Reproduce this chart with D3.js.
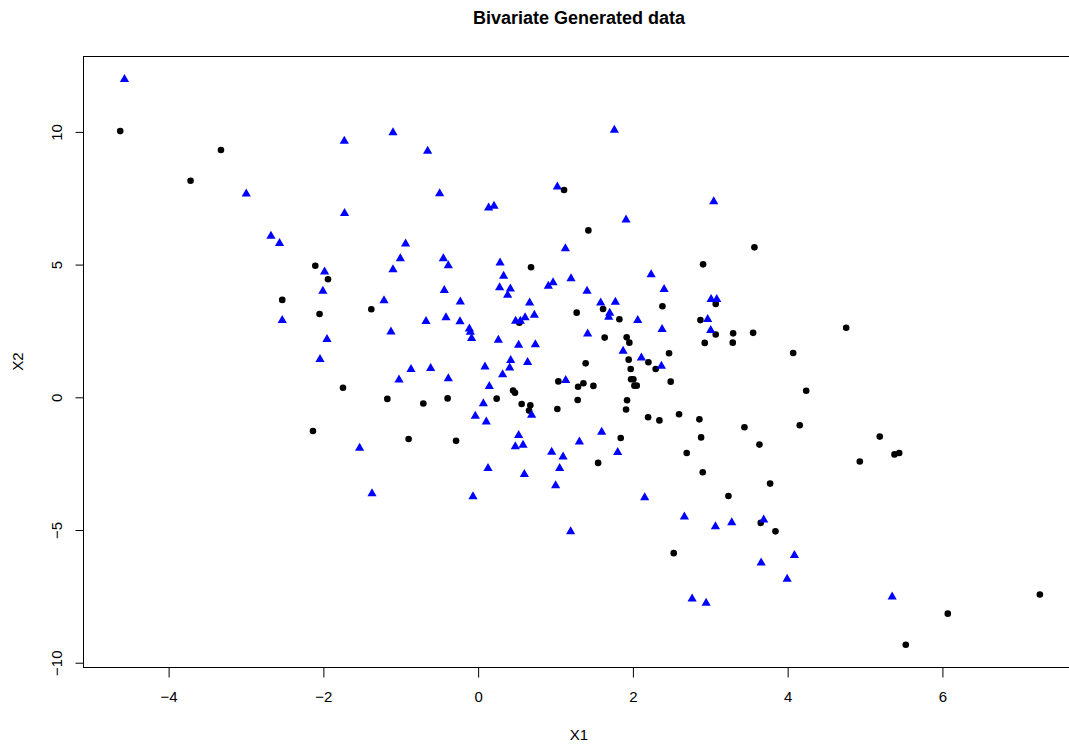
<!DOCTYPE html>
<html>
<head>
<meta charset="utf-8">
<script src="https://cdn.jsdelivr.net/npm/d3@7"></script>
<style>
	body { margin: 0; background: #fff; }
	text { font-family: 'Liberation Sans', Arial, Helvetica, sans-serif; fill: #000; }
</style>
</head>
<body>
<div id="canvas"></div>
<script>
// group 1: black dots
const dotX = [-4.619, -3.317, -3.71, 1.117, 1.431, 3.577, -2.098, -1.934, -2.525, -2.043,
	-2.128, 0.69, -1.374, 0.539, 1.043, -1.74, -1.167, -0.702, -0.388, 0.246,
	0.458, 0.483, 0.569, 0.681, 0.664, 1.030, -0.892, -0.279, 2.914, 1.280,
	1.621, 1.832, 2.388, 3.077, 2.879, 3.077, 3.302, 3.560, 2.935, 3.297,
	4.078, 1.642, 1.926, 1.961, 2.474, 1.952, 2.207, 2.301, 1.978, 1.396,
	1.983, 2.013, 2.026, 2.056, 2.495, 1.298, 1.367, 1.496, 4.246, 1.293,
	1.931, 1.918, 2.203, 2.349, 2.603, 2.866, 3.448, 4.163, 1.849, 2.888,
	3.642, 2.702, 4.763, 5.197, 5.387, 5.448, 4.939, 1.557, 2.909, 3.780,
	3.241, 3.659, 3.849, 2.534, 7.266, 6.076, 5.533];
const dotY = [10.01, 9.30, 8.14, 7.79, 6.27, 5.63, 4.94, 4.43, 3.65, 3.12,
	-1.29, 4.88, 3.30, 2.79, 0.58, 0.34, -0.08, -0.25, -0.06, -0.07,
	0.24, 0.15, -0.27, -0.32, -0.52, -0.46, -1.59, -1.66, 4.99, 3.17,
	3.31, 2.92, 3.41, 3.50, 2.89, 2.35, 2.39, 2.41, 2.03, 2.04,
	1.65, 2.23, 2.24, 2.04, 1.64, 1.40, 1.30, 1.05, 1.05, 1.26,
	0.66, 0.66, 0.42, 0.42, 0.57, 0.38, 0.51, 0.41, 0.23, -0.12,
	-0.13, -0.48, -0.77, -0.89, -0.66, -0.85, -1.15, -1.07, -1.55, -1.53,
	-1.80, -2.12, 2.60, -1.50, -2.17, -2.12, -2.44, -2.49, -2.84, -3.27,
	-3.74, -4.75, -5.07, -5.89, -7.45, -8.17, -9.34];

// group 2: blue triangles
const triX = [-4.564, -2.99, -2.671, -2.56, -1.723, -1.094, -0.646, -0.491, 1.030, 0.142,
	0.212, -1.72, -0.931, 1.134, 1.767, 3.051, 1.918, -1.978, -2.0, -2.525,
	-1.947, -2.037, -0.999, -0.443, -1.094, -0.379, 0.29, 0.336, 0.284, 0.423,
	0.388, 0.975, 0.914, 1.207, -1.21, -0.431, -0.224, 0.672, 0.733, -0.667,
	-0.409, -0.228, -1.12, -0.107, -0.094, -0.078, 0.491, 0.552, 0.613, 0.268,
	0.530, 0.746, 0.427, 0.414, 0.646, 0.095, 0.323, -0.861, -0.607, -1.016,
	-0.379, 0.151, 1.138, 0.698, 0.074, -0.030, 0.112, -1.525, 0.530, 0.487,
	0.587, 0.957, 1.104, 1.414, 2.242, 2.410, 1.590, 1.780, 1.707, 1.694,
	2.069, 2.384, 3.017, 3.090, 2.973, 3.012, 1.422, 1.880, 2.116, 2.375,
	1.603, 1.315, 1.810, -1.365, -0.060, 0.134, 0.604, 1.060, 1.008, 1.202,
	2.159, 2.672, 3.073, 3.284, 3.697, 4.094, 3.664, 4.0, 2.772, 2.953,
	5.357];
const triY = [12.0, 7.69, 6.09, 5.82, 9.67, 9.99, 9.30, 7.70, 7.95, 7.16,
	7.22, 6.95, 5.80, 5.62, 10.09, 7.39, 6.71, 4.75, 4.02, 2.92,
	2.20, 1.45, 5.25, 5.25, 4.83, 4.98, 5.09, 4.59, 4.15, 4.11,
	3.87, 4.34, 4.21, 4.49, 3.66, 4.05, 3.62, 3.58, 3.12, 2.88,
	3.02, 2.87, 2.49, 2.60, 2.48, 2.24, 2.89, 2.89, 3.02, 2.18,
	1.99, 2.01, 1.41, 1.13, 1.34, 1.17, 0.88, 1.07, 1.11, 0.68,
	0.73, 0.43, 0.66, -0.65, -0.22, -0.69, -0.90, -1.89, -1.41, -1.84,
	-1.78, -2.04, -2.22, 4.02, 4.64, 4.09, 3.58, 3.61, 3.19, 3.04,
	2.92, 2.58, 3.71, 3.71, 2.96, 2.54, 2.41, 1.76, 1.51, 1.20,
	-1.29, -1.66, -2.05, -3.61, -3.72, -2.66, -2.88, -2.66, -3.31, -5.04,
	-3.76, -4.48, -4.85, -4.70, -4.60, -5.93, -6.22, -6.83, -7.57, -7.73,
	-7.50];

const xTicks = [-4, -2, 0, 2, 4, 6];
const yTicks = [-10, -5, 0, 5, 10];

const w = 1069;
const h = 745;
const plotLeft = 83, plotRight = 1075, plotTop = 56, plotBottom = 667;

const dots = dotX.map((x, i) => ({x: x, y: dotY[i]}));
const tris = triX.map((x, i) => ({x: x, y: triY[i]}));

const xScale = d3.scaleLinear()
									.domain([-5.1, 7.72])
									.range([plotLeft, plotRight]);

const yScale = d3.scaleLinear()
									.domain([-10.18, 12.84])
									.range([plotBottom, plotTop]);

const svg = d3.select('#canvas')
							.append('svg')
							.attr('width', w)
							.attr('height', h);

// plot box
svg.append('rect')
		.attr('x', plotLeft + 0.5)
		.attr('y', plotTop + 0.5)
		.attr('width', plotRight - plotLeft)
		.attr('height', plotBottom - plotTop)
		.attr('fill', 'none')
		.attr('stroke', '#000')
		.attr('stroke-width', 1);

svg.selectAll('circle')
		.data(dots)
		.enter()
		.append('circle')
		.attr('cx', (d) => xScale(d.x))
		.attr('cy', (d) => yScale(d.y))
		.attr('r', 3.3)
		.attr('fill', '#000');

svg.selectAll('path.tri')
		.data(tris)
		.enter()
		.append('path')
		.attr('class', 'tri')
		.attr('d', 'M0,-4.3L4.6,3.7L-4.6,3.7Z')
		.attr('transform', (d) => 'translate(' + xScale(d.x) + ',' + yScale(d.y) + ')')
		.attr('fill', '#0000ff');

const xAxis = d3.axisBottom(xScale)
								.tickValues(xTicks)
								.tickSize(10)
								.tickPadding(14);

const yAxis = d3.axisLeft(yScale)
								.tickValues(yTicks)
								.tickSize(8);

const gx = svg.append('g')
		.attr('transform', 'translate(0.5, ' + (plotBottom + 0.5) + ')')
		.call(xAxis);
gx.select('.domain').attr('d', 'M' + xScale(-4) + ',0H' + xScale(6));
gx.selectAll('text').style('font-size', '15px').attr('fill', '#000');

const gy = svg.append('g')
		.attr('transform', 'translate(' + (plotLeft + 0.5) + ', 0.5)')
		.call(yAxis);
gy.select('.domain').attr('d', 'M0,' + yScale(-10) + 'V' + yScale(10));
gy.selectAll('text')
		.style('font-size', '15px')
		.attr('fill', '#000')
		.attr('x', 0)
		.attr('dy', 0)
		.attr('transform', 'translate(-22,0) rotate(-90)')
		.style('text-anchor', 'middle');

svg.append('text')
		.attr('x', (plotLeft + plotRight) / 2)
		.attr('y', 24)
		.style('text-anchor', 'middle')
		.style('font-weight', 'bold')
		.style('font-size', '18px')
		.text('Bivariate Generated data');

svg.append('text')
		.attr('x', (plotLeft + plotRight) / 2)
		.attr('y', 740)
		.style('text-anchor', 'middle')
		.style('font-size', '15px')
		.text('X1');

svg.append('text')
		.attr('transform', 'translate(23, ' + ((plotTop + plotBottom) / 2) + ') rotate(-90)')
		.style('text-anchor', 'middle')
		.style('font-size', '15px')
		.text('X2');
</script>
</body>
</html>
